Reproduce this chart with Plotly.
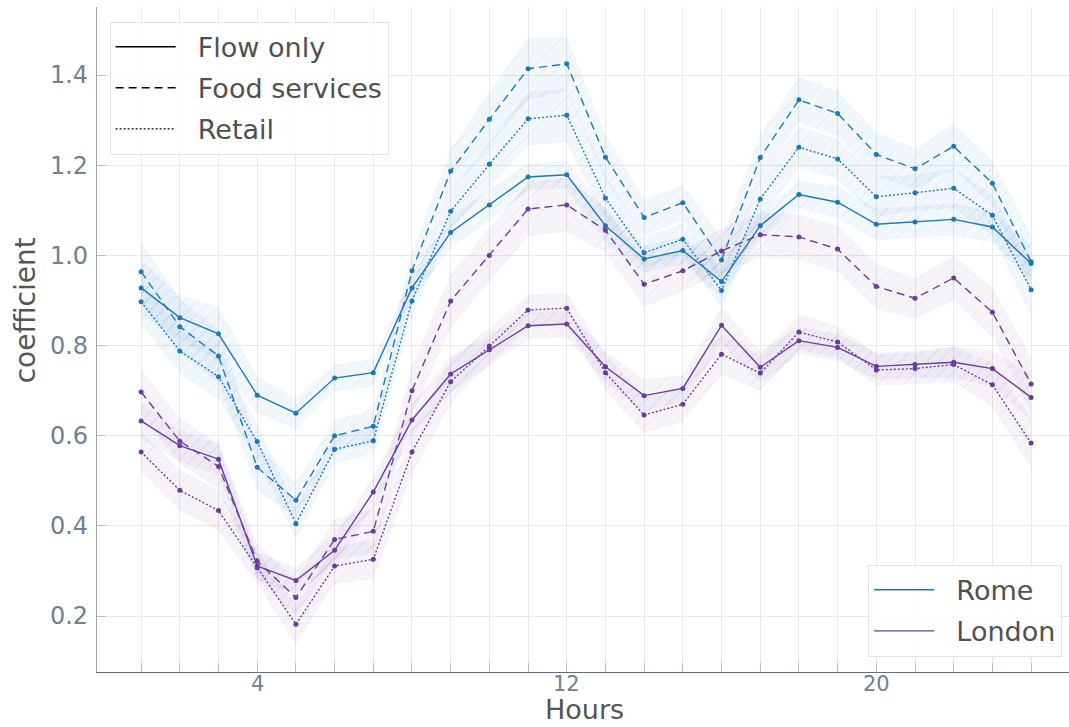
import plotly.graph_objects as go

# Hour of day (1..24)
hours = list(range(1, 25))

# Rome coefficients per hour
rome_flow = [0.928, 0.862, 0.826, 0.690, 0.650, 0.728, 0.740, 0.928, 1.051, 1.112, 1.174, 1.179,
             1.066, 0.992, 1.011, 0.942, 1.066, 1.135, 1.118, 1.069, 1.074, 1.080, 1.063, 0.982]
rome_food = [0.964, 0.842, 0.777, 0.530, 0.457, 0.600, 0.621, 0.966, 1.187, 1.302, 1.414, 1.425,
             1.218, 1.084, 1.117, 0.990, 1.217, 1.345, 1.315, 1.224, 1.192, 1.242, 1.160, 0.986]
rome_retail = [0.897, 0.788, 0.731, 0.587, 0.405, 0.570, 0.589, 0.899, 1.098, 1.202, 1.303, 1.311,
               1.127, 1.006, 1.036, 0.922, 1.125, 1.240, 1.214, 1.130, 1.139, 1.149, 1.089, 0.924]

# London coefficients per hour
london_flow = [0.633, 0.578, 0.548, 0.311, 0.279, 0.346, 0.475, 0.635, 0.737, 0.791, 0.844, 0.848,
               0.753, 0.689, 0.705, 0.845, 0.752, 0.811, 0.796, 0.754, 0.758, 0.763, 0.749, 0.685]
london_food = [0.697, 0.588, 0.532, 0.322, 0.241, 0.370, 0.388, 0.700, 0.899, 1.000, 1.103, 1.112,
               1.056, 0.936, 0.966, 1.010, 1.046, 1.041, 1.014, 0.931, 0.905, 0.950, 0.874, 0.715]
london_retail = [0.564, 0.479, 0.434, 0.307, 0.182, 0.311, 0.326, 0.564, 0.720, 0.799, 0.879, 0.883,
                 0.740, 0.646, 0.670, 0.781, 0.739, 0.830, 0.808, 0.746, 0.749, 0.758, 0.713, 0.584]

# Half-widths of the confidence bands
rome_flow_err = [0.060, 0.050, 0.060, 0.040, 0.035, 0.030, 0.030, 0.030, 0.035, 0.035, 0.030, 0.030,
                 0.035, 0.030, 0.030, 0.035, 0.030, 0.030, 0.035, 0.035, 0.035, 0.035, 0.035, 0.040]
rome_food_err = [0.065, 0.060, 0.060, 0.050, 0.040, 0.035, 0.040, 0.040, 0.050, 0.060, 0.070, 0.060,
                 0.050, 0.040, 0.040, 0.050, 0.050, 0.050, 0.050, 0.050, 0.045, 0.050, 0.050, 0.060]
rome_retail_err = [0.050, 0.050, 0.050, 0.040, 0.035, 0.030, 0.030, 0.035, 0.040, 0.050, 0.060, 0.060,
                   0.050, 0.035, 0.035, 0.040, 0.045, 0.045, 0.045, 0.045, 0.040, 0.045, 0.045, 0.060]
london_flow_err = [0.040, 0.035, 0.035, 0.030, 0.030, 0.030, 0.035, 0.035, 0.040, 0.035, 0.030, 0.030,
                   0.035, 0.035, 0.030, 0.040, 0.035, 0.030, 0.030, 0.030, 0.030, 0.035, 0.040, 0.050]
london_food_err = [0.050, 0.050, 0.050, 0.040, 0.040, 0.045, 0.050, 0.055, 0.060, 0.060, 0.060, 0.060,
                   0.050, 0.050, 0.045, 0.050, 0.050, 0.050, 0.050, 0.050, 0.045, 0.050, 0.055, 0.060]
london_retail_err = [0.045, 0.045, 0.045, 0.035, 0.045, 0.040, 0.045, 0.050, 0.050, 0.040, 0.035, 0.035,
                     0.040, 0.040, 0.040, 0.045, 0.040, 0.040, 0.035, 0.035, 0.035, 0.040, 0.050, 0.055]

x_labels = {4: "4", 12: "12", 20: "20"}
y_ticks = [0.2, 0.4, 0.6, 0.8, 1.0, 1.2, 1.4]

cities = [
    ("Rome", "#1f78b4", (31, 120, 180),
     [("Flow only", rome_flow, rome_flow_err), ("Food services", rome_food, rome_food_err),
      ("Retail", rome_retail, rome_retail_err)]),
    ("London", "#6a3d9a", (106, 61, 154),
     [("Flow only", london_flow, london_flow_err), ("Food services", london_food, london_food_err),
      ("Retail", london_retail, london_retail_err)]),
]
dashes = {"Flow only": "solid", "Food services": "8px,5px", "Retail": "2px,2px"}

fig = go.Figure()

# Hatched confidence bands
for city, color, rgb, series in cities:
    r, g, b = rgb
    for name, vals, err in series:
        upper = [v + e for v, e in zip(vals, err)]
        lower = [v - e for v, e in zip(vals, err)]
        fig.add_trace(go.Scatter(
            x=hours + hours[::-1], y=upper + lower[::-1],
            mode="lines", line=dict(width=0), fill="toself",
            fillcolor=f"rgba({r},{g},{b},0.06)",
            fillpattern=dict(shape="/", size=9, solidity=0.1,
                             bgcolor=f"rgba({r},{g},{b},0.06)",
                             fgcolor=f"rgba({r},{g},{b},0.3)", fgopacity=0.3),
            hoverinfo="skip", showlegend=False))

# Coefficient lines with point markers
for city, color, rgb, series in cities:
    for name, vals, err in series:
        fig.add_trace(go.Scatter(
            x=hours, y=vals, mode="lines+markers",
            line=dict(color=color, width=1.4, dash=dashes[name]),
            marker=dict(color=color, size=5),
            name=f"{city} – {name}", showlegend=False))

GAP = "\u00a0\u00a0"  # space between legend line sample and label

# Legend for the line styles
for name in ["Flow only", "Food services", "Retail"]:
    fig.add_trace(go.Scatter(x=[None], y=[None], mode="lines",
                             line=dict(color="black", width=1.4, dash=dashes[name]),
                             name=GAP + name, legend="legend", legendgroup=name))

# Legend for the cities
for city, color, rgb, series in cities:
    fig.add_trace(go.Scatter(x=[None], y=[None], mode="lines",
                             line=dict(color=color, width=1.4),
                             name=GAP + city, legend="legend2", legendgroup=city))

legend_style = dict(font=dict(size=27, color="#505050", family="DejaVu Sans"),
                    bgcolor="rgba(255,255,255,0.85)", bordercolor="#e3e3e3", borderwidth=1,
                    itemwidth=60, tracegroupgap=3)

# Hour labels placed just under the x axis line
hour_label_annotations = [
    dict(text=txt, showarrow=False, xref="x", yref="paper", x=h, y=-0.018,
         xanchor="center", yanchor="middle", borderpad=0,
         font=dict(size=21, color="#708090", family="DejaVu Sans"))
    for h, txt in x_labels.items()
]

fig.update_layout(
    width=1069, height=727,
    margin=dict(l=97, r=0, t=7, b=55),
    plot_bgcolor="white", paper_bgcolor="white",
    font=dict(family="DejaVu Sans"),
    legend=dict(x=0.013, y=0.978, xanchor="left", yanchor="top", **legend_style),
    legend2=dict(x=0.993, y=0.023, xanchor="right", yanchor="bottom", **legend_style),
    xaxis=dict(
        range=[-0.14, 24.98],
        tickvals=hours, ticktext=["" for h in hours],
        ticks="inside", ticklen=9, tickcolor="#b5bcc3",
        showgrid=True, gridcolor="#e8e8e8", gridwidth=1,
        showline=True, linecolor="#5f6f78", linewidth=1.2,
        zeroline=False,
    ),
    yaxis=dict(
        range=[0.076, 1.551],
        tickvals=y_ticks, ticktext=[f"{v:.1f}" for v in y_ticks],
        ticks="inside", ticklen=9, tickcolor="#b5bcc3",
        showgrid=True, gridcolor="#e8e8e8", gridwidth=1,
        showline=True, linecolor="#9aa6b0", linewidth=1.2,
        zeroline=False, ticklabelstandoff=3,
        tickfont=dict(size=24, color="#708090"),
    ),
    annotations=hour_label_annotations + [
        dict(text="coefficient", textangle=-90, showarrow=False,
             xref="paper", yref="paper", x=-0.074, y=0.544,
             xanchor="center", yanchor="middle",
             font=dict(size=28, color="#555555", family="DejaVu Sans")),
        dict(text="Hours", showarrow=False,
             xref="paper", yref="paper", x=0.502, y=-0.0815,
             xanchor="center", yanchor="bottom", borderpad=0,
             font=dict(size=27, color="#555555", family="DejaVu Sans")),
    ],
)

fig.write_html("out.html")
